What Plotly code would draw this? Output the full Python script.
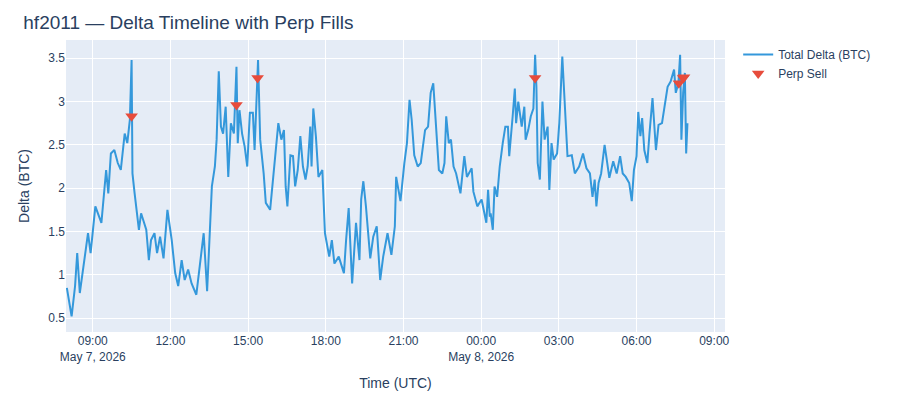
import plotly.graph_objects as go
import pandas as pd

times_d1 = ["08:00","08:11","08:19","08:24","08:30","08:38","08:49","08:55","09:06","09:20","09:26","09:31","09:36","09:42","09:50","09:58",
"10:05","10:14","10:20","10:26","10:30","10:32","10:37","10:47","10:52","11:04","11:10","11:15","11:23","11:29","11:36","11:44","11:53",
"12:03","12:11","12:18","12:26","12:33","12:41","12:49","13:00","13:09","13:17","13:25","13:30","13:36","13:43","13:47","13:52","13:57",
"14:02","14:08","14:14","14:20","14:27","14:33","14:36","14:40","14:46","14:52","14:58","15:04","15:11","15:15","15:23","15:28","15:36",
"15:41","15:51","16:01","16:10","16:17","16:23","16:27","16:31","16:38","16:44","16:49","16:55","17:01","17:07","17:13","17:18","17:24",
"17:27","17:31","17:37","17:43","17:52","17:58","18:08","18:14","18:20","18:30","18:42","18:47","18:53","19:01","19:10","19:18","19:22",
"19:27","19:33","19:43","19:50","19:58","20:06","20:13","20:23","20:32","20:40","20:43","20:53","21:02","21:08","21:14","21:19","21:25",
"21:33","21:40","21:50","21:57","22:03","22:09","22:12","22:17","22:22","22:30","22:35","22:39","22:45","22:50","22:56","23:02","23:12",
"23:21","23:27","23:38","23:42","23:51"]
vals_d1 = [0.85,0.52,0.87,1.25,0.79,1.1,1.48,1.25,1.79,1.6,1.9,2.21,1.94,2.4,2.44,2.29,
2.21,2.63,2.52,2.79,3.48,2.17,1.94,1.52,1.71,1.52,1.17,1.4,1.48,1.25,1.44,1.19,1.75,
1.4,1.02,0.87,1.17,0.94,1.06,0.9,0.77,1.17,1.48,0.81,1.4,2.02,2.25,2.56,3.35,2.71,
2.63,2.94,2.13,2.75,2.63,3.4,2.52,2.9,2.63,2.48,2.25,2.87,2.87,2.44,3.48,2.56,2.17,
1.83,1.75,2.25,2.75,2.56,2.67,2.02,1.79,2.38,2.37,2.02,2.21,2.6,2.25,2.1,2.25,2.71,
2.25,2.92,2.6,2.13,2.21,1.48,1.21,1.4,1.13,1.21,1.02,1.4,1.77,0.9,1.6,1.17,1.87,
2.08,1.79,1.19,1.44,1.56,0.94,1.21,1.48,1.23,1.56,2.13,1.85,2.29,2.52,3.02,2.79,2.38,
2.25,2.29,2.67,2.71,3.1,3.21,2.98,2.52,2.21,2.17,2.29,2.83,2.52,2.56,2.25,2.17,1.94,
2.37,2.13,2.23,1.96,1.79]
times_d2 = ["00:01","00:12","00:16","00:20","00:22","00:27","00:31","00:37","00:43","00:50","00:56","01:02","01:05","01:13","01:18","01:21",
"01:26","01:34","01:40","01:43","01:49","01:55","02:01","02:05","02:08","02:11","02:16","02:22","02:27","02:34","02:38","02:43","02:48",
"02:56","03:01","03:08","03:13","03:20","03:30","03:37","03:47","03:56","04:04","04:12","04:18","04:23","04:27","04:32","04:38","04:46",
"04:51","04:57","05:06","05:14","05:22","05:28","05:35","05:43","05:49","05:54","06:00","06:04","06:09","06:13","06:18","06:25","06:30",
"06:37","06:45","06:51","06:59","07:06","07:12","07:19","07:27","07:31","07:37","07:41","07:44","07:48","07:52","07:55","07:58"]
vals_d2 = [1.87,1.6,1.98,1.67,1.71,1.52,2.02,1.9,2.25,2.52,2.71,2.71,2.37,2.83,3.15,2.75,
3.0,2.71,2.94,2.56,2.67,2.83,2.92,3.54,3.17,2.29,2.1,3.0,2.56,2.71,1.98,2.52,2.33,
2.4,2.75,3.52,3.06,2.37,2.38,2.17,2.25,2.4,2.23,2.17,1.9,2.1,1.79,2.06,2.17,2.5,
2.33,2.12,2.31,2.17,2.37,2.17,2.13,2.06,1.85,2.21,2.37,2.88,2.6,2.81,2.44,2.29,2.63,
3.04,2.44,2.73,2.75,3.0,3.17,3.23,3.37,3.1,3.21,3.54,2.56,3.1,3.33,2.4,2.75]

fill_times = ["2026-05-07 10:30","2026-05-07 14:33","2026-05-07 15:22","2026-05-08 02:05",
              "2026-05-08 07:38","2026-05-08 07:48","2026-05-08 07:50"]
fill_vals = [2.83,2.96,3.27,3.27,3.21,3.27,3.28]

x = [pd.Timestamp("2026-05-07 " + t) for t in times_d1] + [pd.Timestamp("2026-05-08 " + t) for t in times_d2]
y = vals_d1 + vals_d2

fig = go.Figure()
fig.add_trace(go.Scatter(x=x, y=y, mode="lines", name="Total Delta (BTC)",
                         line=dict(color="#3498db", width=2)))
fig.add_trace(go.Scatter(x=pd.to_datetime(fill_times), y=fill_vals, mode="markers", name="Perp Sell",
                         marker=dict(symbol="triangle-down", color="#e74c3c", size=11)))
fig.update_layout(
    width=900, height=400,
    font=dict(family="Liberation Sans, Arial, sans-serif", size=12, color="#2a3f5f"),
    title=dict(text="hf2011 — Delta Timeline with Perp Fills", x=0.017, y=0.965, yanchor="middle",
               font=dict(size=19)),
    margin=dict(l=58, r=183, t=32, b=76),
    xaxis=dict(title=dict(text="Time (UTC)", font=dict(size=14)), range=["2026-05-07 07:58", "2026-05-08 09:25"],
               dtick=3*3600*1000, tick0="2026-05-07 00:00"),
    yaxis=dict(title=dict(text="Delta (BTC)", font=dict(size=14)), range=[0.34, 3.71], dtick=0.5),
    legend=dict(x=1.02, y=1, yanchor="top"),
)
fig.write_html("out.html")
